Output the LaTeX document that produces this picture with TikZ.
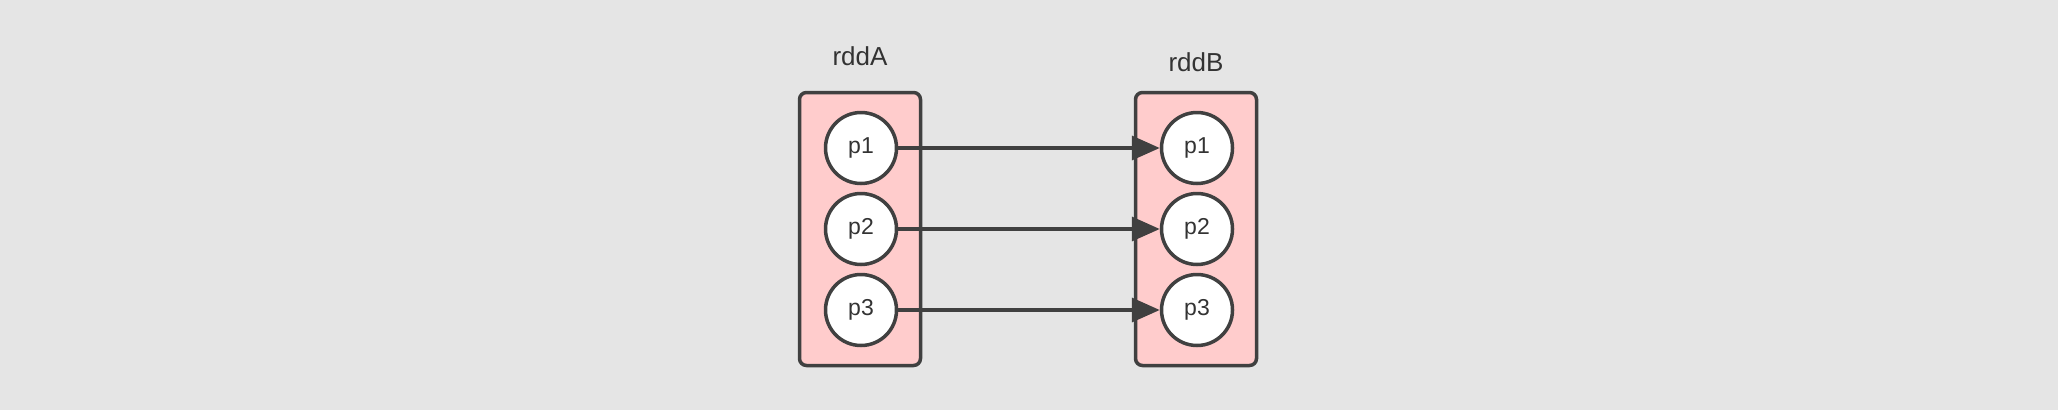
\documentclass[tikz,border=0pt]{standalone}
\usepackage{fontspec}
\setmainfont{Liberation Sans}
\usetikzlibrary{arrows.meta}
\definecolor{bg}{HTML}{E5E5E5}
\definecolor{boxfill}{HTML}{FFCCCC}
\definecolor{edge}{HTML}{404040}
\definecolor{txt}{HTML}{333333}
\begin{document}
\begin{tikzpicture}[x=1pt,y=-1pt,
  rddbox/.style={draw=edge,fill=boxfill,line width=3.5pt,rounded corners=7pt,minimum width=121pt,minimum height=273pt,inner sep=0pt},
  part/.style={circle,draw=edge,fill=white,line width=3.5pt,minimum size=71pt,inner sep=0pt,font=\fontsize{23}{27}\selectfont,text=txt},
  title/.style={font=\fontsize{26}{30}\selectfont,text=txt},
  flow/.style={draw=edge,line width=3.5pt,-{Triangle[length=28pt,width=24pt]}}]
\fill[bg] (0,0) rectangle (2058,410);
\useasboundingbox (0,0) rectangle (2058,410);
\node[rddbox] (A) at (860,229) {};
\node[rddbox] (B) at (1196,229) {};
\node[title] (tA) at (860,56) {rddA};
\node[title] (tB) at (1196,62) {rddB};
\node[part] (a1) at (861,148) {p1};
\node[part] (a2) at (861,229) {p2};
\node[part] (a3) at (861,310) {p3};
\node[part] (b1) at (1197,148) {p1};
\node[part] (b2) at (1197,229) {p2};
\node[part] (b3) at (1197,310) {p3};
\draw[flow] (a1) -- (b1);
\draw[flow] (a2) -- (b2);
\draw[flow] (a3) -- (b3);
\end{tikzpicture}
\end{document}
